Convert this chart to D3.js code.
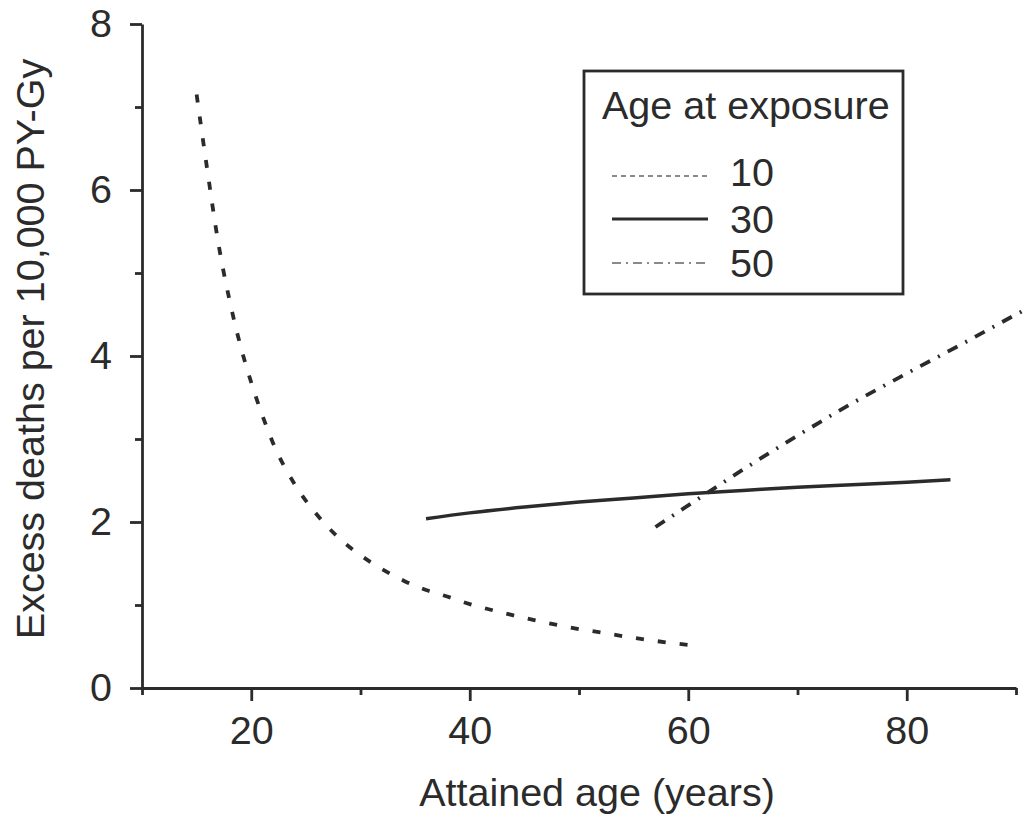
<!DOCTYPE html>
<html>
<head>
<meta charset="utf-8">
<script src="https://cdn.jsdelivr.net/npm/d3@7"></script>
<style>
  body { margin: 0; background: #fff; }
  svg text { font-family: "Liberation Sans", Arial, sans-serif; fill: #2b2b2b; }
</style>
</head>
<body>
<div id="chart-area"></div>
<script>
// attained age (years) and excess deaths per 10,000 PY-Gy, by age at exposure
const ages10 = [15, 16, 17, 18, 19, 20, 21, 22, 24, 26, 28, 30, 32, 34, 36, 38, 40, 42, 44, 46, 48, 50, 52, 54, 56, 58, 60];
const rates10 = [7.15, 6.22, 5.35, 4.68, 4.13, 3.68, 3.29, 2.95, 2.45, 2.09, 1.81, 1.60, 1.43, 1.29, 1.18, 1.10, 1.01, 0.94, 0.875, 0.815, 0.76, 0.71, 0.67, 0.625, 0.585, 0.55, 0.52];
const ages30 = [36, 40, 45, 50, 55, 60, 65, 70, 75, 80, 84];
const rates30 = [2.04, 2.11, 2.18, 2.24, 2.29, 2.34, 2.38, 2.42, 2.45, 2.48, 2.51];
const ages50 = [57, 60, 65, 70, 75, 80, 85, 90, 91];
const rates50 = [1.94, 2.20, 2.63, 3.04, 3.43, 3.79, 4.14, 4.50, 4.57];

const exposureAges = ['10', '30', '50'];
const xMajorTicks = [20, 40, 60, 80];
const xMinorTicks = [10, 30, 50, 70, 90];
const yMajorTicks = [0, 2, 4, 6, 8];
const yMinorTicks = [1, 3, 5, 7];

const width = 1029;
const height = 823;
const ink = '#2b2b2b';
const fontSize = '39.5px';

const svg = d3.select('#chart-area').append('svg')
  .attr('width', width)
  .attr('height', height);

const x = d3.scaleLinear().domain([10, 90]).range([142, 1016]);
const y = d3.scaleLinear().domain([0, 8]).range([688, 24]);

// axes
const xAxisGroup = svg.append('g').attr('transform', `translate(0, ${y(0)})`);
xAxisGroup.call(d3.axisBottom(x).tickValues(xMajorTicks).tickSize(13).tickPadding(15).tickSizeOuter(0));
const xMinorGroup = svg.append('g').attr('transform', `translate(0, ${y(0)})`);
xMinorGroup.call(d3.axisBottom(x).tickValues(xMinorTicks).tickSize(7).tickFormat('').tickSizeOuter(0));
xMinorGroup.select('.domain').remove();

const yAxisGroup = svg.append('g').attr('transform', `translate(${x(10)}, 0)`);
yAxisGroup.call(d3.axisLeft(y).tickValues(yMajorTicks).tickSize(12).tickPadding(18).tickSizeOuter(0));
const yMinorGroup = svg.append('g').attr('transform', `translate(${x(10)}, 0)`);
yMinorGroup.call(d3.axisLeft(y).tickValues(yMinorTicks).tickSize(7).tickFormat('').tickSizeOuter(0));
yMinorGroup.select('.domain').remove();

svg.selectAll('.domain, .tick line')
  .attr('stroke', ink)
  .attr('stroke-width', 2.8);
svg.selectAll('.tick text')
  .attr('font-size', fontSize)
  .style('font-family', '"Liberation Sans", Arial, sans-serif')
  .attr('fill', ink);

// axis titles
svg.append('text')
  .attr('x', 597)
  .attr('y', 806)
  .attr('text-anchor', 'middle')
  .attr('font-size', fontSize)
  .text('Attained age (years)');

svg.append('text')
  .attr('transform', 'translate(44, 349) rotate(-90)')
  .attr('text-anchor', 'middle')
  .attr('font-size', fontSize)
  .text('Excess deaths per 10,000 PY-Gy');

// curves
const series = [
  {key: '10', ages: ages10, rates: rates10, dash: '8,14', width: 3.8},
  {key: '30', ages: ages30, rates: rates30, dash: null, width: 3.5},
  {key: '50', ages: ages50, rates: rates50, dash: '11,9,2,9', width: 3.8}
];

const line = d3.line()
  .x(d => x(d[0]))
  .y(d => y(d[1]))
  .curve(d3.curveMonotoneX);

svg.selectAll('path.curve')
  .data(series)
  .enter()
  .append('path')
  .attr('class', 'curve')
  .attr('fill', 'none')
  .attr('stroke', ink)
  .attr('stroke-width', d => d.width)
  .attr('stroke-dasharray', d => d.dash)
  .attr('d', d => line(d.ages.map((a, i) => [a, d.rates[i]])));

// legend
const legend = svg.append('g');

legend.append('rect')
  .attr('x', 584)
  .attr('y', 71)
  .attr('width', 319)
  .attr('height', 223)
  .attr('fill', 'none')
  .attr('stroke', ink)
  .attr('stroke-width', 2.8);

legend.append('text')
  .attr('x', 602)
  .attr('y', 119)
  .attr('font-size', fontSize)
  .text('Age at exposure');

const legendStyles = [
  {dash: '5,4', color: '#8a8a8a', width: 2},
  {dash: null, color: ink, width: 3},
  {dash: '9,5,2,5', color: '#8a8a8a', width: 2}
];
const legendRowsY = [172, 219, 263];

exposureAges.forEach((age, i) => {
  const row = legend.append('g')
    .attr('transform', `translate(0, ${legendRowsY[i]})`);

  row.append('line')
    .attr('x1', 612)
    .attr('x2', 708)
    .attr('y1', i === 0 ? 4 : 0)
    .attr('y2', i === 0 ? 4 : 0)
    .attr('stroke', legendStyles[i].color)
    .attr('stroke-width', legendStyles[i].width)
    .attr('stroke-dasharray', legendStyles[i].dash);

  row.append('text')
    .attr('x', 730)
    .attr('y', 14)
    .attr('font-size', fontSize)
    .text(age);
});
</script>
</body>
</html>
